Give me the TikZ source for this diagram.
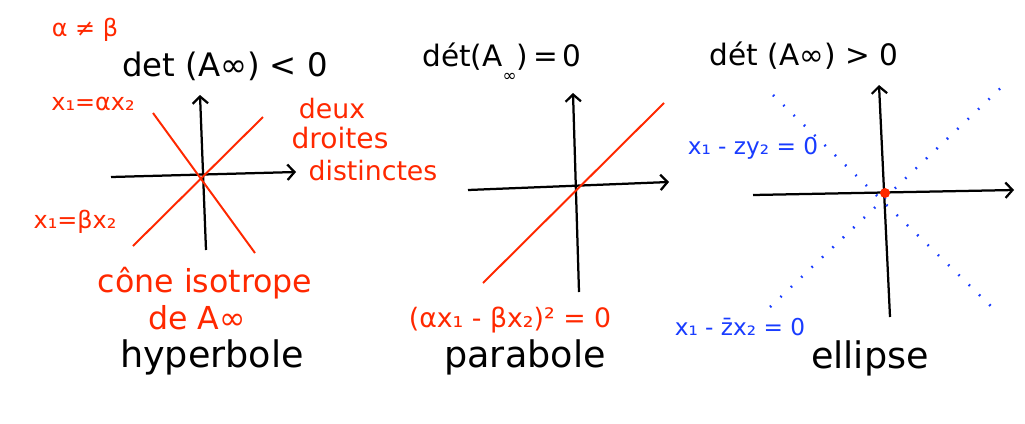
\documentclass[tikz,border=0pt]{standalone}
\usepackage{fontspec}
\setmainfont{DejaVu Sans}
\usepackage{tikz}
\usetikzlibrary{
  arrows.meta,              % Straight Barb tips of the axes
  positioning               % relative placement of labels
}

\definecolor{rougeC}{RGB}{255,40,0}
\definecolor{bleuC}{RGB}{25,60,255}

\begin{document}
\begin{tikzpicture}[x=0.025cm, y=-0.025cm,
    axe/.style={line width=1.6pt, -{Straight Barb[length=5pt, width=11pt, line width=1.6pt]}},
    droite/.style={line width=1.4pt, color=rougeC},
    pointille/.style={line width=1.8pt, color=bleuC, dash pattern=on 1.2pt off 9pt},
    noir/.style={font=\fontsize{21}{24}\selectfont},
    nom/.style={font=\fontsize{26}{29}\selectfont},
    rouge/.style={text=rougeC, font=\fontsize{17}{20}\selectfont},
    bleu/.style={text=bleuC, font=\fontsize{16.5}{19}\selectfont}]
  \useasboundingbox (0,0) rectangle (1025,423);

  % ---- hyperbole : det < 0 ----
  \node[rouge] (neq) at (85,30) {α ≠ β};
  \node[noir, font=\fontsize{23}{26}\selectfont] (det1) at (225,66) {det (A∞) < 0};
  \draw[axe] (206,250) -- (200,95);
  \draw[axe] (111,177) -- (296,172);
  \draw[droite] (153,113) -- (255,253);
  \draw[droite] (133,246) -- (263,117);
  \node[rouge] (alpha) at (93,104) {x₁=αx₂};
  \node[rouge] (beta) at (75,222) {x₁=βx₂};
  \node[rouge, font=\fontsize{19}{22}\selectfont] (deux) at (332,109) {deux};
  \node[rouge, font=\fontsize{20}{23}\selectfont] (droites) at (340,138) {droites};
  \node[rouge, font=\fontsize{19}{22}\selectfont] (dist) at (373,171) {distinctes};
  \node[rouge, font=\fontsize{22.5}{26}\selectfont] (cone) at (205,283) {cône isotrope};
  \node[rouge, font=\fontsize{22.5}{26}\selectfont] (deA) at (197,318) {de A∞};
  \node[nom] (hyp) at (212,357) {hyperbole};

  % ---- parabole : det = 0 ----
  \node[noir] (det2) at (502,62) {dét(A\raisebox{-0.9ex}{\fontsize{12}{13}\selectfont ∞})\,=\,0};
  \draw[axe] (579,292) -- (573,93);
  \draw[axe] (468,190) -- (669,182);
  \draw[droite] (483,283) -- (664,103);
  \node[rouge, font=\fontsize{19}{22}\selectfont] (carre) at (510,320) {(αx₁ - βx₂)² = 0};
  \node[nom] (par) at (525,357) {parabole};

  % ---- ellipse : det > 0 ----
  \node[noir] (det3) at (804,56) {dét (A∞) > 0};
  \draw[axe] (890,317) -- (879,85);
  \draw[axe] (753,195) -- (1014,190);
  \draw[pointille] (773,95) -- (998,313);
  \draw[pointille] (770,307) -- (1007,82);
  \fill[rougeC] (885,193) circle (5);
  \node[bleu] (z1) at (753,148) {x₁ - zy₂ = 0};
  \node[bleu] (z2) at (740,327) {x₁ - \={z}x₂ = 0};
  \node[nom] (ell) at (870,358) {ellipse};
\end{tikzpicture}
\end{document}
